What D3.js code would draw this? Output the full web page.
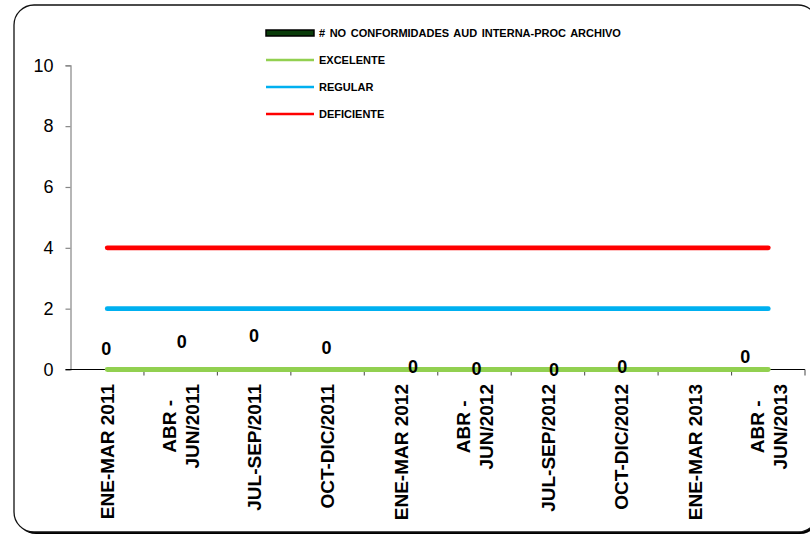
<!DOCTYPE html>
<html>
<head>
<meta charset="utf-8">
<script src="https://cdn.jsdelivr.net/npm/d3@7"></script>
<style>
  html, body { margin: 0; padding: 0; background: #fff; }
  svg { display: block; font-family: "Liberation Sans", Arial, sans-serif; }
</style>
</head>
<body>
<svg id="chart" width="810" height="535"></svg>
<script>
// ---- data ----
const categories = [
  ["ENE-MAR 2011"],
  ["ABR -", "JUN/2011"],
  ["JUL-SEP/2011"],
  ["OCT-DIC/2011"],
  ["ENE-MAR 2012"],
  ["ABR -", "JUN/2012"],
  ["JUL-SEP/2012"],
  ["OCT-DIC/2012"],
  ["ENE-MAR 2013"],
  ["ABR -", "JUN/2013"]
];
const noConformidades = [0, 0, 0, 0, 0, 0, 0, 0, null, 0];
const excelente  = [0, 0, 0, 0, 0, 0, 0, 0, 0, 0];
const regular    = [2, 2, 2, 2, 2, 2, 2, 2, 2, 2];
const deficiente = [4, 4, 4, 4, 4, 4, 4, 4, 4, 4];
const yTicks = [0, 2, 4, 6, 8, 10];
const seriesNames = ["# NO CONFORMIDADES AUD INTERNA-PROC ARCHIVO", "EXCELENTE", "REGULAR", "DEFICIENTE"];

// manual label nudges (pixels) as placed in the original chart
const labelNudgeX = [-1, 1, 0, -1, 12, 2, 6, 1, 0, -23];
const labelNudgeY = [-21, -28, -34, -22, -3, -1, 0, -3, 0, -13];

// ---- layout ----
const svg = d3.select("#chart");
const plot = { left: 70.5, right: 805, top: 65.3, bottom: 369.5 };
const colors = { data: "#0b3d0b", exc: "#92D050", reg: "#00B0F0", def: "#FF0000" };

// chart frame with shadow
svg.append("rect").attr("x", 16).attr("y", 7).attr("width", 804).attr("height", 527)
  .attr("rx", 20).attr("fill", "#000");
svg.append("rect").attr("x", 14).attr("y", 5).attr("width", 804).attr("height", 527)
  .attr("rx", 20).attr("fill", "#fff").attr("stroke", "#111").attr("stroke-width", 1.3);

const idx = d3.range(categories.length);
const x = d3.scaleBand().domain(idx).range([plot.left, plot.right]).padding(0);
const y = d3.scaleLinear().domain([0, 10]).range([plot.bottom, plot.top]);
const cx = i => x(i) + x.bandwidth() / 2;

// y axis
const yAxis = svg.append("g").attr("transform", `translate(${plot.left},0)`)
  .call(d3.axisLeft(y).tickValues(yTicks).tickSize(5).tickPadding(12).tickFormat(d3.format("d")));
yAxis.select(".domain").attr("stroke", "#868686").attr("stroke-width", 1.2);
yAxis.selectAll(".tick line").attr("stroke", "#868686").attr("stroke-width", 1.2);
yAxis.selectAll(".tick text").attr("font-size", 18).attr("fill", "#000")
  .attr("font-family", "Liberation Sans, Arial, sans-serif");

// x axis
const xAxisG = svg.append("g");
xAxisG.append("line").attr("x1", plot.left - 5).attr("x2", plot.right)
  .attr("y1", plot.bottom).attr("y2", plot.bottom).attr("stroke", "#000").attr("stroke-width", 1.1);
xAxisG.selectAll("line.tk").data(idx).join("line").attr("class", "tk")
  .attr("x1", i => x(i) + x.bandwidth()).attr("x2", i => x(i) + x.bandwidth())
  .attr("y1", plot.bottom).attr("y2", plot.bottom + 6)
  .attr("stroke", "#555").attr("stroke-width", 1.1);

// category labels (rotated)
const labelTop = 384;
idx.forEach(i => {
  const lines = categories[i];
  const g = svg.append("g");
  if (lines.length === 1) {
    g.append("text")
      .attr("transform", `translate(${cx(i)},${labelTop}) rotate(-90)`)
      .attr("text-anchor", "end").attr("dy", "0.36em")
      .attr("font-size", 19).attr("font-weight", "bold").attr("fill", "#000")
      .text(lines[0]);
  } else {
    const lh = 23;
    const texts = lines.map((t, k) => g.append("text")
      .attr("font-size", 19).attr("font-weight", "bold").attr("fill", "#000")
      .attr("text-anchor", "middle").attr("dy", "0.36em").text(t));
    const maxLen = d3.max(texts, t => t.node().getComputedTextLength());
    const mid = labelTop + maxLen / 2;
    texts.forEach((t, k) => {
      const off = (k - (lines.length - 1) / 2) * lh;
      t.attr("transform", `translate(${cx(i) + off},${mid}) rotate(-90)`);
    });
  }
});

// series lines (the data series sits under the EXCELENTE line at 0)
const line = d3.line().defined(d => d != null).x((d, i) => cx(i)).y(d => y(d));
svg.append("path").datum(noConformidades).attr("d", line)
  .attr("fill", "none").attr("stroke", "#000").attr("stroke-width", 3).attr("stroke-linecap", "butt");
svg.append("path").datum(noConformidades).attr("d", line)
  .attr("fill", "none").attr("stroke", colors.data).attr("stroke-width", 1.6).attr("stroke-linecap", "butt");
[[excelente, colors.exc], [regular, colors.reg], [deficiente, colors.def]].forEach(([vals, c]) => {
  svg.append("path").datum(vals).attr("d", line)
    .attr("fill", "none").attr("stroke", c).attr("stroke-width", 4.8).attr("stroke-linecap", "round");
});

// data labels
svg.append("g").selectAll("text").data(idx.filter(i => noConformidades[i] != null)).join("text")
  .attr("x", i => cx(i) + labelNudgeX[i])
  .attr("y", i => y(noConformidades[i]) + labelNudgeY[i])
  .attr("dy", "0.36em").attr("text-anchor", "middle")
  .attr("font-size", 18).attr("font-weight", "bold").attr("fill", "#000")
  .text(i => d3.format("d")(noConformidades[i]));

// legend
const leg = svg.append("g");
const legX = 266, legW = 48, legY0 = 33, legStep = 27;
const legColors = [colors.data, colors.exc, colors.reg, colors.def];
seriesNames.forEach((name, k) => {
  const yy = legY0 + k * legStep;
  if (k === 0) {
    leg.append("rect").attr("x", legX).attr("y", yy - 3).attr("width", legW).attr("height", 6)
      .attr("fill", legColors[k]).attr("stroke", "#000").attr("stroke-width", 1.5);
  } else {
    leg.append("line").attr("x1", legX).attr("x2", legX + legW).attr("y1", yy).attr("y2", yy)
      .attr("stroke", legColors[k]).attr("stroke-width", 2.5);
  }
  leg.append("text").attr("x", legX + 53).attr("y", yy).attr("dy", "0.36em")
    .attr("font-size", 11).attr("font-weight", "bold").attr("fill", "#000")
    .attr("word-spacing", 1.5).text(name);
});
</script>
</body>
</html>
